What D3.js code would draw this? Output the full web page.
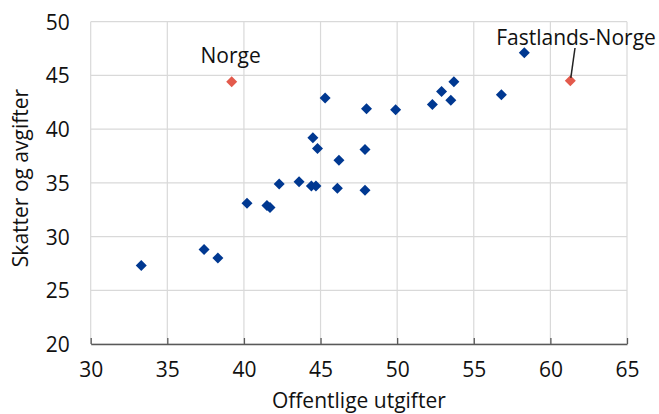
<!DOCTYPE html>
<html>
<head>
<meta charset="utf-8">
<script src="https://cdn.jsdelivr.net/npm/d3@7"></script>
<style>
  html, body { margin: 0; padding: 0; background: #fff; }
  svg { display: block; }
  text { font-family: "Open Sans", "Noto Sans", sans-serif; fill: #111; }
</style>
</head>
<body>
<svg id="chart" width="659" height="414"></svg>
<script>
// Offentlige utgifter (x) og skatter og avgifter (y), prosent av BNP
const countryX = [45.3, 48.0, 44.5, 44.8, 46.2, 47.9, 42.3, 43.6, 44.4, 44.7, 46.1, 47.9,
                  40.2, 41.5, 41.7, 58.3, 53.7, 52.9, 53.5, 52.3, 49.9, 56.8, 33.3, 37.4, 38.3];
const countryY = [42.9, 41.9, 39.2, 38.2, 37.1, 38.1, 34.9, 35.1, 34.7, 34.7, 34.5, 34.3,
                  33.1, 32.9, 32.7, 47.1, 44.4, 43.5, 42.7, 42.3, 41.8, 43.2, 27.3, 28.8, 28.0];

const highlightNames = ["Norge", "Fastlands-Norge"];
const highlightX = [39.2, 61.3];
const highlightY = [44.4, 44.5];

const xTicks = [30, 35, 40, 45, 50, 55, 60, 65];
const yTicks = [20, 25, 30, 35, 40, 45, 50];

const svg = d3.select("#chart");
const plotLeft = 90.7, plotRight = 627, plotTop = 21.7, plotBottom = 344;

const x = d3.scaleLinear().domain([30, 65]).range([plotLeft, plotRight]);
const y = d3.scaleLinear().domain([20, 50]).range([plotBottom, plotTop]);

// gridlines
svg.append("g").selectAll("line").data(xTicks).join("line")
  .attr("x1", d => x(d)).attr("x2", d => x(d))
  .attr("y1", plotTop).attr("y2", plotBottom)
  .attr("stroke", "#d9d9d9").attr("stroke-width", 1.2);
svg.append("g").selectAll("line").data(yTicks).join("line")
  .attr("x1", plotLeft).attr("x2", plotRight)
  .attr("y1", d => y(d)).attr("y2", d => y(d))
  .attr("stroke", "#d9d9d9").attr("stroke-width", 1.2);

// bottom axis with inward ticks
const xAxis = d3.axisBottom(x).tickValues(xTicks).tickSizeInner(-6).tickSizeOuter(0).tickPadding(14);
const gx = svg.append("g").attr("transform", `translate(0,${plotBottom})`).call(xAxis);
gx.select(".domain").attr("stroke", "#595959").attr("stroke-width", 1.3);
gx.selectAll(".tick line").attr("stroke", "#595959").attr("stroke-width", 1.3);
gx.selectAll(".tick text").attr("font-size", 21).attr("fill", "#111")
  .attr("font-family", "Open Sans").attr("y", 33).attr("dy", null);

// left axis labels only
const yAxis = d3.axisLeft(y).tickValues(yTicks).tickSize(0).tickPadding(21);
const gy = svg.append("g").attr("transform", `translate(${plotLeft},0)`).call(yAxis);
gy.select(".domain").remove();
gy.selectAll(".tick text").attr("font-size", 21).attr("fill", "#111")
  .attr("font-family", "Open Sans").attr("dy", "0.36em");

// axis titles
svg.append("text").attr("x", (plotLeft + plotRight) / 2).attr("y", 408)
  .attr("text-anchor", "middle").attr("font-size", 21).text("Offentlige utgifter");
svg.append("text").attr("transform", "translate(28,178) rotate(-90)")
  .attr("text-anchor", "middle").attr("font-size", 21).text("Skatter og avgifter");

// diamond markers
const diamond = h => `M0,${-h}L${h},0L0,${h}L${-h},0Z`;
svg.append("g").selectAll("path").data(countryX.map((v, i) => [v, countryY[i]])).join("path")
  .attr("d", diamond(5.5))
  .attr("transform", d => `translate(${x(d[0])},${y(d[1])})`)
  .attr("fill", "#003891");

svg.append("g").selectAll("path").data(highlightX.map((v, i) => [v, highlightY[i]])).join("path")
  .attr("d", diamond(5.5))
  .attr("transform", d => `translate(${x(d[0])},${y(d[1])})`)
  .attr("fill", "#e35a4c");

// labels for the highlighted points
svg.append("text").attr("x", x(highlightX[0]) - 1).attr("y", 63)
  .attr("text-anchor", "middle").attr("font-size", 21).text(highlightNames[0]);
svg.append("text").attr("x", 576).attr("y", 45)
  .attr("text-anchor", "middle").attr("font-size", 21).text(highlightNames[1]);
svg.append("line")
  .attr("x1", 575).attr("y1", 48)
  .attr("x2", x(highlightX[1]) + 0.5).attr("y2", y(highlightY[1]) - 3)
  .attr("stroke", "#222").attr("stroke-width", 1.5);
</script>
</body>
</html>
